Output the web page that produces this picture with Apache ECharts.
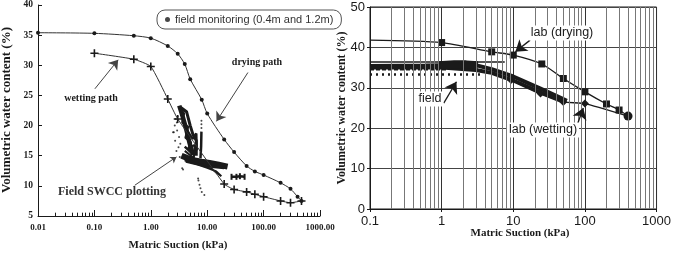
<!DOCTYPE html>
<html>
<head>
<meta charset="utf-8">
<script src="https://cdn.jsdelivr.net/npm/echarts@6/dist/echarts.min.js"></script>
<style>
  html, body { margin: 0; padding: 0; background: #fff; }
  #chart { width: 674px; height: 260px; }
</style>
</head>
<body>
<div id="chart"></div>
<script>
// ---- left panel: field monitoring (suction kPa / vol. water content %)
var dryingSuction = [0.01, 0.1, 0.5, 1, 2, 3, 4, 5, 8, 10, 20, 30, 50, 70, 100, 200, 300, 400, 470]
var dryingTheta = [35.4, 35.3, 34.9, 34.5, 33.2, 31.9, 30.2, 27.7, 24.3, 22.0, 17.7, 15.6, 13.3, 12.4, 11.8, 10.5, 9.5, 8.2, 7.5]
var wettingSuction = [0.1, 0.5, 1, 2, 3, 20, 30, 50, 70, 100, 200, 300, 470]
var wettingTheta = [32.0, 31.0, 29.8, 24.4, 21.1, 10.3, 9.4, 9.0, 8.6, 8.2, 7.5, 7.2, 7.5]

// field SWCC scribbles (hand read)
var fieldMain = [[3.2, 23.3], [3.7, 21.4], [4.3, 19.2], [4.9, 17.0], [5.6, 15.1]]
var fieldSecond = [[3.4, 23.0], [4.3, 22.3], [5.0, 20.0], [5.6, 18.5], [6.4, 17.5], [6.4, 15.0]]
var fieldInner = [[4.2, 19.5], [5.5, 17.8], [6.4, 18.7], [6.5, 16.0], [5.2, 15.5], [4.0, 16.5]]
var fieldExtra = [[3.3, 22.8], [3.9, 22.0], [3.6, 20.5], [4.6, 19.8], [4.1, 18.0], [5.2, 17.2], [4.6, 16.2], [6.0, 16.8], [5.8, 14.6]]
var fieldVertical = [[7.9, 19.0], [7.8, 16.5], [7.6, 14.6]]
var fieldBottom = [[3.5, 15.0], [4.5, 14.6], [6, 14.2], [8, 14.0], [11, 13.8], [16, 13.5], [23, 13.2]]
var fieldBottomLow = [[4, 14.3], [7, 13.6], [12, 13.2], [20, 13.0]]
var fieldScribble = [[4, 15.8], [5.5, 14.8], [4.2, 14.0], [7, 13.5], [10, 13.0], [14.5, 12.4], [17.8, 11.6], [12, 12.8], [6, 13.8]]
var fieldBar = [[27, 11.5], [33, 11.5], [38, 11.6], [46, 11.5]]
var fieldDots = [[2.77, 21.1], [2.66, 20.0], [2.93, 19.2], [3.17, 18.1], [3.34, 17.0], [2.85, 15.8], [3.26, 14.8],
  [3.73, 12.7], [2.56, 18.9], [2.48, 18.9], [3.6, 12.9], [6.9, 11.2], [7.0, 10.9], [7.3, 10.2], [7.6, 9.6],
  [8.0, 9.0], [8.9, 8.5], [7.9, 20.8], [7.9, 20.2], [7.9, 19.6], [3.0, 21.5], [2.9, 20.5], [3.1, 16.4], [2.7, 17.5]]

// ---- right panel: lab vs field
var labDryingSuction = [0.1, 1, 5, 10, 25, 50, 100, 200, 300, 400]
var labDryingTheta = [41.8, 41.2, 38.9, 38.1, 35.9, 32.3, 29.0, 26.0, 24.5, 23.0]
var labWettingSuction = [5, 9.3, 24, 50, 100, 400]
var labWettingTheta = [33.5, 31.9, 28.6, 26.5, 26.1, 23.0]

var fieldCore = [[0.9, 35.6], [1.5, 35.8], [2.2, 35.8], [3.2, 35.6]]
var fieldBandTop = [[0.1, 35.4], [0.6, 35.5], [1, 35.6], [3, 35.6], [5, 34.6], [10, 32.8], [24, 29.8], [50, 27.2], [56, 26.8]]
var fieldBandLow = [[0.1, 35.0], [1, 35.0], [3, 34.4], [5, 33.7], [10, 31.8], [24, 28.8], [50, 26.6]]
var fieldRowTop = [[0.1, 36.4], [7.6, 36.4]]
var fieldRowMid = [[0.1, 34.6], [1.2, 34.6]]
var fieldRowLow = [[0.1, 33.3], [3.5, 33.3]]

var leftTicks = ['0.01', '0.10', '1.00', '10.00', '100.00', '1000.00']

var SERIF = "'Liberation Serif', 'Times New Roman', serif"
var SANS = "'Liberation Sans Narrow', 'Liberation Sans', Arial, sans-serif"
var INK = '#1a1a1a'

function zip(xs, ys) {
  return xs.map(function (x, i) { return [x, ys[i]] })
}

// log minor positions 2..9 per decade
function minors(from, to) {
  var out = []
  for (var d = from; d < to * 0.99; d *= 10) {
    for (var m = 2; m <= 9; m++) out.push(+(m * d).toPrecision(3))
  }
  return out
}

var plus = 'path://M4,0H6V4H10V6H6V10H4V6H0V4H4Z'

function scribble(data, width, style) {
  return {
    type: 'line', xAxisIndex: 0, yAxisIndex: 0, data: data, symbol: 'none',
    lineStyle: { color: INK, width: width, type: style || 'solid' }, z: 3, silent: true
  }
}
function bandR(data, width, style) {
  return {
    type: 'line', xAxisIndex: 1, yAxisIndex: 1, data: data, symbol: 'none',
    lineStyle: { color: INK, width: width, type: style || 'solid' }, z: 3, silent: true
  }
}

var chart = echarts.init(document.getElementById('chart'), null, { renderer: 'canvas' })

var labDryingData = zip(labDryingSuction, labDryingTheta).map(function (p, i) {
  if (i === 0) return { value: p, symbol: 'none' }
  if (i === labDryingSuction.length - 1) return { value: p, symbol: 'circle', symbolSize: 9 }
  return p
})
var labWettingData = zip(labWettingSuction, labWettingTheta).map(function (p, i) {
  if (i === 0) return { value: p, symbol: 'none' }
  return p
})

chart.setOption({
  animation: false,
  backgroundColor: '#fff',
  legend: {
    left: 157, top: 10,
    data: ['field monitoring (0.4m and 1.2m)'],
    icon: 'circle', itemWidth: 5, itemHeight: 5,
    borderColor: '#555', borderWidth: 1, borderRadius: 8,
    padding: [4, 8, 4, 8],
    textStyle: { fontFamily: SANS, fontSize: 11, color: '#333' }
  },
  grid: [
    { left: 38, top: 4, width: 282, height: 212 },
    { left: 370, top: 7, width: 292, height: 202, show: true, borderColor: INK, borderWidth: 1 }
  ],
  xAxis: [
    {
      type: 'log', gridIndex: 0, min: 0.01, max: 1000, logBase: 10,
      axisLine: { lineStyle: { color: INK } },
      axisTick: { inside: true, length: 6, lineStyle: { color: INK } },
      axisLabel: {
        fontFamily: SERIF, fontWeight: 'bold', fontSize: 9, color: INK, margin: 7,
        formatter: function (v) {
          var i = Math.round(Math.log10(v)) + 2
          return leftTicks[i]
        }
      },
      splitLine: { show: false }
    },
    {
      type: 'log', gridIndex: 1, min: 0.1, max: 1000, logBase: 10,
      axisLine: { lineStyle: { color: INK } },
      axisTick: { length: 3, lineStyle: { color: INK } },
      axisLabel: {
        fontFamily: SANS, fontSize: 13, color: INK, margin: 6,
        formatter: function (v) { return String(+(+v).toPrecision(3)) }
      },
      splitLine: { show: true, lineStyle: { color: '#333', width: 1 } }
    }
  ],
  yAxis: [
    {
      type: 'value', gridIndex: 0, min: 5, max: 40, interval: 5,
      axisLine: { show: true, lineStyle: { color: INK } },
      axisTick: { show: true, inside: true, length: 4, lineStyle: { color: INK } },
      axisLabel: { fontFamily: SERIF, fontWeight: 'bold', fontSize: 9.5, color: INK, margin: 5 },
      splitLine: { show: false }
    },
    {
      type: 'value', gridIndex: 1, min: 0, max: 50, interval: 10,
      axisLine: { show: true, lineStyle: { color: INK } },
      axisTick: { show: true, length: 3, lineStyle: { color: INK } },
      axisLabel: { fontFamily: SANS, fontSize: 13, color: INK, margin: 5 },
      splitLine: { show: true, lineStyle: { color: '#444', width: 1 } }
    }
  ],
  series: [
    // minor grid of right panel / minor ticks of left panel
    {
      type: 'line', xAxisIndex: 1, yAxisIndex: 1, data: [[0.1, 0]], symbol: 'none', z: 1, silent: true,
      markLine: {
        silent: true, symbol: 'none', label: { show: false },
        lineStyle: { color: '#777', width: 1, type: 'solid' },
        data: minors(0.1, 1000).map(function (v) { return { xAxis: v } })
      }
    },
    {
      type: 'line', xAxisIndex: 0, yAxisIndex: 0, data: [[0.01, 5]], symbol: 'none', z: 1, silent: true,
      markLine: {
        silent: true, symbol: 'none', label: { show: false },
        lineStyle: { color: INK, width: 1, type: 'solid' },
        data: minors(0.01, 1000).map(function (v) { return [{ coord: [v, 5] }, { coord: [v, 5.55] }] })
      }
    },
    // left panel paths
    {
      name: 'drying', type: 'line', xAxisIndex: 0, yAxisIndex: 0,
      data: zip(dryingSuction, dryingTheta), smooth: 0.25,
      symbol: 'circle', symbolSize: 4,
      itemStyle: { color: INK }, lineStyle: { color: '#333', width: 1 }, z: 4
    },
    {
      name: 'wetting', type: 'line', xAxisIndex: 0, yAxisIndex: 0,
      data: zip(wettingSuction, wettingTheta), smooth: 0.15,
      symbol: plus, symbolSize: 8,
      itemStyle: { color: INK }, lineStyle: { color: '#333', width: 1 }, z: 4
    },
    {
      name: 'field monitoring (0.4m and 1.2m)', type: 'scatter', xAxisIndex: 0, yAxisIndex: 0,
      data: fieldDots, symbolSize: 2, itemStyle: { color: INK }, z: 3
    },
    scribble(fieldMain, 4.5),
    scribble(fieldSecond, 3),
    scribble(fieldInner, 2.5),
    scribble(fieldExtra, 2),
    scribble(fieldVertical, 2.5),
    scribble(fieldBottom, 6),
    scribble(fieldBottomLow, 3),
    scribble(fieldScribble, 2),
    {
      type: 'line', xAxisIndex: 0, yAxisIndex: 0, data: fieldBar, symbol: 'rect', symbolSize: [2, 6],
      itemStyle: { color: INK }, lineStyle: { color: INK, width: 2.5 }, z: 3, silent: true
    },
    // left panel arrows
    {
      type: 'line', xAxisIndex: 0, yAxisIndex: 0, data: [[0.01, 5]], symbol: 'none', silent: true, z: 5,
      markLine: {
        silent: true, symbol: ['none', 'arrow'], symbolSize: 9, label: { show: false },
        lineStyle: { color: '#444', width: 1, type: 'solid' },
        data: [
          [{ coord: [0.102, 26.1] }, { coord: [0.264, 30.9] }],
          [{ coord: [52.7, 28.8] }, { coord: [14.6, 20.7] }],
          [{ coord: [0.52, 10.1], symbolSize: 6 }, { coord: [2.85, 14.8], symbolSize: 6 }]
        ]
      }
    },
    // right panel
    bandR(fieldRowTop, 1.5),
    bandR(fieldRowMid, 2.5, [4, 2]),
    bandR(fieldRowLow, 2.5, [2, 4]),
    bandR(fieldBandTop, 4),
    bandR(fieldBandLow, 4),
    bandR(fieldCore, 8),
    {
      name: 'lab (drying)', type: 'line', xAxisIndex: 1, yAxisIndex: 1,
      data: labDryingData, symbol: 'rect', symbolSize: 7, smooth: 0.25,
      itemStyle: { color: INK }, lineStyle: { color: INK, width: 1.3 }, z: 4
    },
    {
      name: 'lab (wetting)', type: 'line', xAxisIndex: 1, yAxisIndex: 1,
      data: labWettingData, symbol: 'diamond', symbolSize: 8, smooth: 0.15,
      itemStyle: { color: INK }, lineStyle: { color: INK, width: 1.3 }, z: 4
    },
    {
      type: 'line', xAxisIndex: 1, yAxisIndex: 1, data: [[0.1, 0]], symbol: 'none', silent: true, z: 5,
      markLine: {
        silent: true, symbol: ['none', 'arrow'], symbolSize: 11, label: { show: false },
        lineStyle: { color: INK, width: 1.3, type: 'solid' },
        data: [
          [{ coord: [17.2, 41.8] }, { coord: [10.7, 38.9] }],
          [{ coord: [1.07, 26.2] }, { coord: [1.61, 31.5] }],
          [{ coord: [71, 18.8] }, { coord: [95, 25] }]
        ]
      }
    }
  ],
  graphic: [
    { type: 'text', x: 7, y: 110, rotation: Math.PI / 2,
      style: { text: 'Volumetric water content (%)', font: 'bold 13px ' + SERIF, fill: INK, align: 'center', verticalAlign: 'middle' } },
    { type: 'text', x: 178, y: 245,
      style: { text: 'Matric Suction (kPa)', font: 'bold 11px ' + SERIF, fill: INK, align: 'center', verticalAlign: 'middle' } },
    { type: 'text', x: 257, y: 62,
      style: { text: 'drying path', font: 'bold 10px ' + SERIF, fill: INK, align: 'center', verticalAlign: 'middle' } },
    { type: 'text', x: 91, y: 98,
      style: { text: 'wetting path', font: 'bold 10px ' + SERIF, fill: INK, align: 'center', verticalAlign: 'middle' } },
    { type: 'text', x: 112, y: 192,
      style: { text: 'Field SWCC plotting', font: 'bold 12px ' + SERIF, fill: '#333', align: 'center', verticalAlign: 'middle' } },

    { type: 'text', x: 342, y: 108, rotation: Math.PI / 2,
      style: { text: 'Volumetric water content (%)', font: 'bold 12px ' + SERIF, fill: INK, align: 'center', verticalAlign: 'middle' } },
    { type: 'text', x: 520, y: 233,
      style: { text: 'Matric Suction (kPa)', font: 'bold 11px ' + SERIF, fill: INK, align: 'center', verticalAlign: 'middle' } },
    { type: 'text', x: 562, y: 33, z: 10,
      style: { text: 'lab (drying)', font: '12.5px ' + SANS, fill: INK, align: 'center', verticalAlign: 'middle', backgroundColor: '#fff', padding: [1, 2] } },
    { type: 'text', x: 430, y: 99, z: 10,
      style: { text: 'field', font: '12.5px ' + SANS, fill: INK, align: 'center', verticalAlign: 'middle', backgroundColor: '#fff', padding: [1, 2] } },
    { type: 'text', x: 543, y: 130, z: 10,
      style: { text: 'lab (wetting)', font: '12.5px ' + SANS, fill: INK, align: 'center', verticalAlign: 'middle', backgroundColor: '#fff', padding: [1, 2] } }
  ]
})
</script>
</body>
</html>
